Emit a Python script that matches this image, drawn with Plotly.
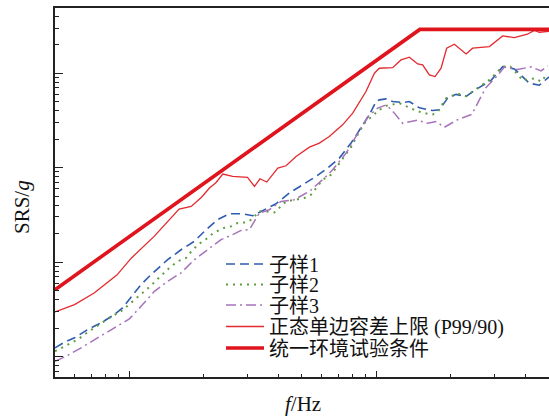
import plotly.graph_objects as go

# ---- data (frequency in Hz, SRS in g) ----
s1_f = [50, 54.6, 60, 67.8, 76.8, 87, 93.9, 100, 111.5, 122.4, 142.9, 161.9, 183.4, 204.4, 227.8, 254, 287.5, 315.6, 336, 392.6, 444.4, 503, 569.9, 635, 708.4, 789.9, 867.1, 937, 997.2, 1028, 1095, 1164, 1278, 1360, 1494, 1690, 1800, 1944, 2102, 2308, 2533, 2914, 3246, 3620, 4164, 4570, 5000]
s1_v = [1.236, 1.416, 1.577, 1.929, 2.271, 2.78, 3.272, 4.005, 5.77, 7.36, 10.6, 13.5, 16.6, 22.0, 28.1, 32.5, 32.5, 30.9, 33.5, 41.4, 53.8, 65.8, 80.5, 98.8, 126, 181.6, 261.6, 361.4, 499.7, 521, 533.8, 499.7, 487.8, 499.7, 428.7, 401.5, 408.3, 543, 595.4, 567, 672.5, 837.3, 1171, 1108, 782, 745, 911]

s2_f = [50, 54.6, 61.8, 67.8, 76.8, 83, 92.6, 101.6, 109.8, 122.4, 130.2, 145.2, 156.8, 169.7, 180.5, 192, 204.4, 217.4, 238.6, 258, 274.4, 296.8, 315.6, 333.8, 357.6, 386.5, 430.9, 473.1, 511, 544, 606.2, 655.4, 708.4, 789.9, 853.4, 908.4, 966.1, 1012, 1095, 1239, 1425, 1540, 1690, 1771, 1915, 2134, 2308, 2571, 2868, 3246, 3486, 3734, 3910, 4404, 4644, 4939]
s2_v = [1.138, 1.285, 1.512, 1.806, 2.233, 2.566, 3.012, 3.695, 4.339, 5.63, 6.63, 8.66, 10.17, 11.05, 13.5, 15.65, 17.5, 19.96, 22.8, 23.85, 25.9, 26.3, 28.6, 34.4, 34.4, 33.5, 43.8, 45.7, 47.6, 51.6, 74.3, 83.9, 111.6, 164.7, 240.8, 312.4, 348.6, 398.5, 450.1, 480.7, 408.3, 379.6, 364.2, 388.9, 540.3, 607, 569.8, 689, 847.5, 1171, 1171, 969, 837.3, 883.4, 813, 992.7]

s3_f = [50, 55.4, 63.8, 73.3, 84.3, 100, 113.2, 126.3, 142.9, 161.9, 183.4, 207.5, 235.1, 262, 283.4, 306, 336, 368.8, 411.3, 465.6, 535.5, 615.9, 665.3, 754.1, 840, 922.2, 1012, 1098, 1183, 1278, 1470, 1613, 1750, 1885, 2128, 2435, 2612, 2781, 3099, 3298, 3734, 4230, 4644, 4939]
s3_v = [0.892, 1.007, 1.236, 1.539, 1.897, 2.503, 3.545, 4.9, 6.25, 7.67, 10.6, 13.5, 17.3, 19.5, 21.6, 22.0, 33.0, 35.8, 43.8, 45.7, 55.9, 77.4, 94.8, 142.3, 231.6, 344.4, 425.6, 461.1, 376.9, 293.9, 317.8, 293.9, 307.1, 266.7, 320.1, 365.9, 521, 706, 945.6, 1157, 1094, 1163, 1055, 1192]

tol_f = [50, 60, 72, 89, 102, 126, 159, 178, 196, 211, 224, 239, 262, 301, 321, 338, 360, 399, 431, 473, 536, 588, 645, 730, 802, 908, 982, 1028, 1164, 1259, 1360, 1470, 1540, 1639, 1729, 1828, 1926, 2069, 2308, 2454, 2868, 3246, 3620, 4087, 4363, 4570, 5000]
tol_v = [2.97, 3.55, 4.71, 7.27, 11.05, 18.7, 36.4, 38.8, 48.5, 60.7, 69.1, 85.4, 80.5, 78.6, 63.1, 76.1, 70.3, 98.8, 104.5, 131, 164.7, 181.6, 213.2, 283.5, 376.9, 637.7, 997.5, 1126, 1143, 1379, 1473, 1251, 1221, 957, 918, 1126, 1834, 2021, 1596, 1834, 1906, 2473, 2373, 2578, 2828, 2706, 2760]

env_f = [50, 1500, 5000]
env_v = [5.1, 2900, 2900]

names = ["子样1", "子样2", "子样3", "正态单边容差上限 (P99/90)", "统一环境试验条件"]

FONT = "Liberation Serif, Times New Roman, Noto Sans CJK SC, serif"

fig = go.Figure()
fig.add_trace(go.Scatter(x=s1_f, y=s1_v, mode="lines", name=names[0], legend="legend",
                         line=dict(color="#2f5cb0", width=1.6, dash="9px,5px")))
fig.add_trace(go.Scatter(x=s2_f, y=s2_v, mode="lines", name=names[1], legend="legend2",
                         line=dict(color="#5e9e3e", width=2, dash="2px,5px")))
fig.add_trace(go.Scatter(x=s3_f, y=s3_v, mode="lines", name=names[2], legend="legend3",
                         line=dict(color="#a674ba", width=1.5, dash="10px,4px,2px,4px")))
fig.add_trace(go.Scatter(x=tol_f, y=tol_v, mode="lines", name=names[3], legend="legend4",
                         line=dict(color="#e42a2e", width=1.3)))
fig.add_trace(go.Scatter(x=env_f, y=env_v, mode="lines", name=names[4], legend="legend5",
                         line=dict(color="#e0141c", width=3.6)))

# plot area pixel geometry: x 55..549, y 8..377
L, R, T, B = 55, 549, 8, 377
W, H = R - L, B - T

def px_x(px):
    return (px - L) / W

def px_y(py):
    return (B - py) / H

legend_rows = [264, 284.5, 305, 326.5, 348]
legend_common = dict(xanchor="left", yanchor="middle", bgcolor="rgba(0,0,0,0)",
                     borderwidth=0, font=dict(family=FONT, size=20, color="#111"),
                     itemwidth=38, tracegroupgap=0)
layout_legends = {}
for i, row in enumerate(legend_rows):
    key = "legend" if i == 0 else f"legend{i+1}"
    layout_legends[key] = dict(x=px_x(221), y=px_y(row), **legend_common)

axis_common = dict(type="log", showgrid=False, zeroline=False, showticklabels=False,
                   showline=True, linecolor="#222", linewidth=1.5,
                   ticks="inside", tickcolor="#222", tickwidth=1.2, dtick=1)

fig.update_layout(
    width=549, height=418,
    margin=dict(l=L, r=549 - R, t=T, b=418 - B),
    paper_bgcolor="white", plot_bgcolor="white",
    showlegend=True,
    font=dict(family=FONT, size=21, color="#111"),
    xaxis=dict(range=[1.699, 3.699], mirror=True, ticklen=6,
               minor=dict(ticks="inside", ticklen=3, tickcolor="#222", tickwidth=1.2, dtick="D1"),
               **axis_common),
    yaxis=dict(range=[-0.2167, 3.689], mirror=False, ticklen=8,
               minor=dict(ticks="inside", ticklen=4, tickcolor="#222", tickwidth=1.2, dtick="D1"),
               **axis_common),
    annotations=[
        dict(text="SRS/<i>g</i>", x=px_x(22), y=px_y(207), xref="paper", yref="paper",
             showarrow=False, textangle=-90, xanchor="center", yanchor="middle",
             font=dict(family=FONT, size=21, color="#111")),
        dict(text="<i>f</i>/Hz", x=px_x(303), y=px_y(404), xref="paper", yref="paper",
             showarrow=False, xanchor="center", yanchor="middle",
             font=dict(family=FONT, size=21, color="#111")),
    ],
    **layout_legends,
)

fig.write_html("out.html", config={"displayModeBar": False},
               post_script="document.body.style.margin='0';document.body.style.overflow='hidden';")
